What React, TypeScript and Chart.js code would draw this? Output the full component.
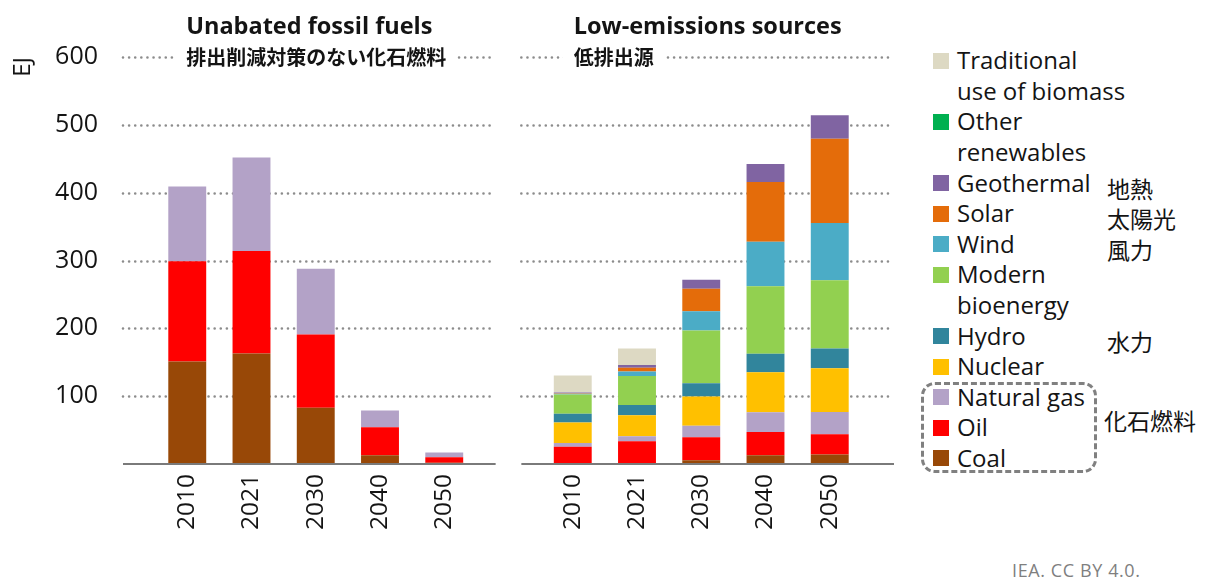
import React, { useEffect, useRef } from 'react';
import { Chart, registerables } from 'chart.js';

Chart.register(...registerables);

// ---------- data ----------
const YEARS = ['2010', '2021', '2030', '2040', '2050'];
const LEFT_X = [0, 1, 2, 3, 4];
const RIGHT_X = [6, 7, 8, 9, 10];
const Y_TICKS = [100, 200, 300, 400, 500, 600];

const LEFT_TITLE = 'Unabated fossil fuels';
const LEFT_SUBTITLE = '排出削減対策のない化石燃料';
const RIGHT_TITLE = 'Low-emissions sources';
const RIGHT_SUBTITLE = '低排出源';
const Y_TITLE = 'EJ';
const CREDIT = 'IEA. CC BY 4.0.';

// Unabated fossil fuels (left group)
const fossilCoal = [151, 163, 83, 13, 2];
const fossilOil = [148, 151, 108, 41, 8];
const fossilGas = [110, 138, 97, 25, 7];

// Low-emissions sources (right group)
const lowCoal = [0, 1, 5.5, 13, 14];
const lowOil = [25.5, 32.4, 34, 34, 29.7];
const lowGas = [5.5, 7.4, 17, 29.4, 33];
const lowNuclear = [30, 31, 43, 59, 64.3];
const lowHydro = [13, 15, 19.6, 27, 29.4];
const lowModernBio = [28.6, 43, 77.7, 99.7, 100.6];
const lowWind = [0.8, 6.5, 28.4, 65.7, 84.2];
const lowSolar = [0.8, 5.5, 33, 88, 124.3];
const lowGeothermal = [1.2, 4, 13.3, 26.3, 34.5];
const lowOtherRenew = [0, 0, 0, 0, 0];
const lowTradBiomass = [25.2, 24.6, 0, 0, 0];

// stacking order bottom -> top
const SERIES_NAMES = [
  'Coal', 'Oil', 'Natural gas', 'Nuclear', 'Hydro', 'Modern bioenergy',
  'Wind', 'Solar', 'Geothermal', 'Other renewables', 'Traditional use of biomass',
];
const SERIES_COLORS = [
  '#984807', '#ff0000', '#b3a2c7', '#ffc000', '#31859c', '#92d050',
  '#4bacc6', '#e46c0a', '#8064a2', '#00b050', '#ddd9c3',
];
const LEFT_VALUES: (number[] | null)[] = [
  fossilCoal, fossilOil, fossilGas, null, null, null, null, null, null, null, null,
];
const RIGHT_VALUES: number[][] = [
  lowCoal, lowOil, lowGas, lowNuclear, lowHydro, lowModernBio,
  lowWind, lowSolar, lowGeothermal, lowOtherRenew, lowTradBiomass,
];
const LEGEND_LINES = [
  ['Coal'], ['Oil'], ['Natural gas'], ['Nuclear'], ['Hydro'], ['Modern', 'bioenergy'],
  ['Wind'], ['Solar'], ['Geothermal'], ['Other', 'renewables'], ['Traditional', 'use of biomass'],
];
const LEGEND_JP = ['', '', '', '', '水力', '', '風力', '太陽光', '地熱', '', ''];
const FOSSIL_JP = '化石燃料';

// group extents along the x scale (in index units)
const GROUP_SPANS: [number, number][] = [[-1, 4.8], [5.2, 11]];

const FONT = '"Open Sans", "Noto Sans", sans-serif';
const JP_FONT = '"Noto Sans CJK JP", "Noto Sans CJK SC", sans-serif';
const TEXT = '#141414';

const yearFor = (v: number) => {
  const li = LEFT_X.indexOf(v);
  if (li >= 0) return YEARS[li];
  const ri = RIGHT_X.indexOf(v);
  if (ri >= 0) return YEARS[ri];
  return '';
};

const decorPlugin = {
  id: 'decor',
  beforeDatasetsDraw(chart: any) {
    const { ctx, scales } = chart;
    const x = scales.x;
    const y = scales.y;
    ctx.save();
    ctx.strokeStyle = '#8c8c8c';
    ctx.lineWidth = 2.6;
    ctx.lineCap = 'round';
    ctx.setLineDash([0.01, 6.1]);
    for (const v of Y_TICKS) {
      const py = Math.round(y.getPixelForValue(v)) + 0.5;
      for (const [a, b] of GROUP_SPANS) {
        ctx.beginPath();
        ctx.moveTo(x.getPixelForValue(a), py);
        ctx.lineTo(x.getPixelForValue(b), py);
        ctx.stroke();
      }
    }
    ctx.restore();
  },
  afterDatasetsDraw(chart: any) {
    const { ctx, scales } = chart;
    const x = scales.x;
    const y = scales.y;
    const py = y.getPixelForValue(0);
    ctx.save();
    ctx.strokeStyle = '#7a7a7a';
    ctx.lineWidth = 2;
    for (const [a, b] of GROUP_SPANS) {
      ctx.beginPath();
      ctx.moveTo(x.getPixelForValue(a), py);
      ctx.lineTo(x.getPixelForValue(b), py);
      ctx.stroke();
    }
    ctx.restore();
  },
  afterDraw(chart: any) {
    const { ctx, scales } = chart;
    const x = scales.x;
    const y = scales.y;
    const top = y.getPixelForValue(600);
    const titles = [
      [LEFT_TITLE, LEFT_SUBTITLE],
      [RIGHT_TITLE, RIGHT_SUBTITLE],
    ];
    ctx.save();
    titles.forEach(([t, s], i) => {
      const [a, b] = GROUP_SPANS[i];
      const cx = (x.getPixelForValue(a) + x.getPixelForValue(b)) / 2;
      ctx.font = `bold 23.5px ${FONT}`;
      const tw = ctx.measureText(t).width;
      ctx.fillStyle = TEXT;
      ctx.textAlign = 'center';
      ctx.textBaseline = 'middle';
      ctx.fillText(t, cx, top - 30);
      const sx = cx - tw / 2;
      ctx.font = `bold 20px ${JP_FONT}`;
      const sw = ctx.measureText(s).width;
      ctx.fillStyle = '#ffffff';
      ctx.fillRect(sx - 11, top - 14, sw + 22, 29);
      ctx.fillStyle = TEXT;
      ctx.textAlign = 'left';
      ctx.fillText(s, sx, top + 0.5);
    });
    ctx.restore();
  },
};

export default function App() {
  const ref = useRef<HTMLCanvasElement | null>(null);

  useEffect(() => {
    if (!ref.current) return;
    const datasets = SERIES_NAMES.map((name, si) => {
      const left = LEFT_VALUES[si];
      const data: { x: number; y: number }[] = [];
      if (left) left.forEach((v, i) => data.push({ x: LEFT_X[i], y: v }));
      RIGHT_VALUES[si].forEach((v, i) => data.push({ x: RIGHT_X[i], y: v }));
      return {
        label: name,
        data,
        backgroundColor: SERIES_COLORS[si],
        borderWidth: 0,
        categoryPercentage: 1,
        barPercentage: 0.59,
      };
    });

    const chart = new Chart(ref.current, {
      type: 'bar',
      data: { datasets },
      plugins: [decorPlugin],
      options: {
        animation: false,
        responsive: false,
        maintainAspectRatio: false,
        layout: { padding: { top: 57, right: 16, left: 0, bottom: 0 } },
        plugins: {
          legend: { display: false },
          tooltip: { enabled: false },
          title: { display: false },
        },
        scales: {
          x: {
            type: 'linear',
            stacked: true,
            min: -1,
            max: 11,
            offset: false,
            grid: { display: false },
            border: { display: false },
            afterBuildTicks: (s: any) => {
              s.ticks = [...LEFT_X, ...RIGHT_X].map((v) => ({ value: v }));
            },
            afterFit: (s: any) => {
              s.height = 116;
            },
            ticks: {
              autoSkip: false,
              minRotation: 90,
              maxRotation: 90,
              padding: 2,
              color: TEXT,
              font: { family: FONT, size: 24.5 },
              callback: (v: any) => yearFor(Number(v)),
            },
          },
          y: {
            stacked: true,
            min: 0,
            max: 600,
            grid: { display: false },
            border: { display: false },
            afterBuildTicks: (s: any) => {
              s.ticks = Y_TICKS.map((v) => ({ value: v }));
            },
            afterFit: (s: any) => {
              s.width = 123;
            },
            ticks: {
              padding: 17,
              color: TEXT,
              font: { family: FONT, size: 25 },
            },
            title: {
              display: true,
              text: Y_TITLE,
              align: 'end',
              color: TEXT,
              font: { family: FONT, size: 24 },
              padding: { top: 9, bottom: 0 },
            },
          },
        },
      } as any,
    });
    return () => chart.destroy();
  }, []);

  // legend lines, top to bottom
  const order = SERIES_NAMES.map((_, i) => i).reverse();
  const LINE_H = 30.6;
  const FIRST_CENTER = 60.5;
  let line = 0;
  const legendItems: React.ReactNode[] = [];
  order.forEach((si) => {
    const cy = FIRST_CENTER + line * LINE_H;
    legendItems.push(
      <div
        key={'sw' + si}
        style={{
          position: 'absolute', left: 933, top: cy - 8, width: 16, height: 16,
          background: SERIES_COLORS[si],
        }}
      />
    );
    LEGEND_LINES[si].forEach((t, k) => {
      const ly = FIRST_CENTER + (line + k) * LINE_H;
      legendItems.push(
        <div
          key={'t' + si + '-' + k}
          style={{
            position: 'absolute', left: 957, top: ly - LINE_H / 2, height: LINE_H,
            lineHeight: LINE_H + 'px', fontFamily: FONT, fontSize: 24, color: TEXT,
            whiteSpace: 'nowrap',
          }}
        >
          {t}
        </div>
      );
    });
    if (LEGEND_JP[si]) {
      legendItems.push(
        <div
          key={'jp' + si}
          style={{
            position: 'absolute', left: 1107, top: cy + 5 - LINE_H / 2, height: LINE_H,
            lineHeight: LINE_H + 'px', fontFamily: JP_FONT, fontSize: 23, color: TEXT,
            whiteSpace: 'nowrap',
          }}
        >
          {LEGEND_JP[si]}
        </div>
      );
    }
    line += LEGEND_LINES[si].length;
  });

  return (
    <div style={{ position: 'absolute', left: 0, top: 0, width: 1212, height: 580, background: '#fff', overflow: 'hidden' }}>
      <canvas ref={ref} width={910} height={580} style={{ position: 'absolute', left: 0, top: 0, width: 910, height: 580 }} />
      {legendItems}
      <div
        style={{
          position: 'absolute', left: 921, top: 382, width: 170, height: 85,
          border: '3px dashed #808080', borderRadius: 14,
        }}
      />
      <div
        style={{
          position: 'absolute', left: 1104, top: 420 - LINE_H / 2, height: LINE_H,
          lineHeight: LINE_H + 'px', fontFamily: JP_FONT, fontSize: 23, color: TEXT,
          whiteSpace: 'nowrap',
        }}
      >
        {FOSSIL_JP}
      </div>
      <div
        style={{
          position: 'absolute', left: 1012, top: 558, height: 24, lineHeight: '24px',
          fontFamily: FONT, fontSize: 18, letterSpacing: 0.6, color: '#7f7f7f', whiteSpace: 'nowrap',
        }}
      >
        {CREDIT}
      </div>
    </div>
  );
}
